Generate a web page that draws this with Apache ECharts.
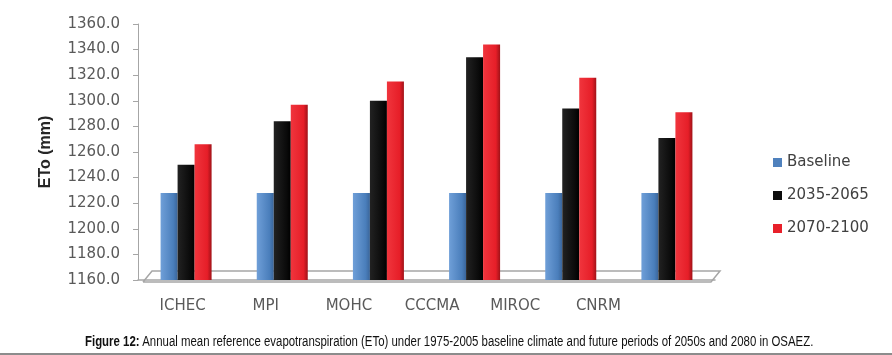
<!DOCTYPE html>
<html><head><meta charset="utf-8">
<script src="https://cdn.jsdelivr.net/npm/echarts@6/dist/echarts.min.js"></script>
<style>html,body{margin:0;padding:0;background:#fff}#c{width:892px;height:355px}</style>
</head><body><div id="c"></div>
<script>
const categories = ['ICHEC','MPI','MOHC','CCCMA','MIROC','CNRM'];
const baseline = [1228, 1228, 1228, 1228, 1228, 1228];
const p2035 = [1250, 1284, 1300, 1334, 1294, 1271];
const p2070 = [1266, 1297, 1315, 1344, 1318, 1291];
const seriesNames = ['Baseline', '2035-2065', '2070-2100'];
const yMin = 1160, yMax = 1360, yStep = 20;

const chart = echarts.init(document.getElementById('c'), null, {renderer: 'canvas'});
const grad = (a, b, c) => ({type: 'linear', x: 0, y: 0, x2: 1, y2: 0,
  colorStops: [{offset: 0, color: a}, {offset: 0.75, color: b}, {offset: 1, color: c}]});
const colors = [grad('#6f9fd8', '#4a7ebb', '#3a659a'), grad('#222', '#0a0a0a', '#000'), grad('#f0353d', '#e61e28', '#a01218')];
const legendColors = ['#4f81bd', '#0d0d0d', '#e8202a'];
const values = [baseline, p2035, p2070];

chart.setOption({
  animation: false,
  grid: [
    {left: 138, right: 177, top: 24, bottom: 75},
    {left: 141, right: 252, top: 24, bottom: 75}
  ],
  legend: {
    orient: 'vertical', left: 768, top: 150, itemGap: 18, itemWidth: 9, itemHeight: 9,
    icon: 'rect',
    textStyle: {fontFamily: 'DejaVu Sans', fontSize: 15, color: '#404040'},
    data: seriesNames.map((n, i) => ({name: n, itemStyle: {color: legendColors[i]}}))
  },
  xAxis: [
    {type: 'category', gridIndex: 0, data: categories,
     axisLine: {show: true, lineStyle: {color: '#a6a6a6', width: 1.5}}, axisTick: {show: false}, axisLabel: {show: false}},
    {type: 'category', gridIndex: 1, data: categories,
     axisLine: {show: false}, axisTick: {show: false},
     axisLabel: {margin: 19, fontFamily: 'DejaVu Sans', fontSize: 15, color: '#595959'}}
  ],
  yAxis: [
    {type: 'value', gridIndex: 0, min: yMin, max: yMax, interval: yStep,
     name: 'ETo (mm)', nameLocation: 'middle', nameGap: 84,
     nameTextStyle: {fontFamily: 'Liberation Sans', fontWeight: 'bold', fontSize: 16, color: '#262626'},
     axisLine: {show: true, lineStyle: {color: '#a6a6a6'}},
     axisTick: {show: true, length: 5, lineStyle: {color: '#a6a6a6'}},
     splitLine: {show: false},
     axisLabel: {margin: 18, fontFamily: 'DejaVu Sans', fontSize: 15, color: '#595959',
       formatter: v => v.toFixed(1)}},
    {type: 'value', gridIndex: 1, min: yMin, max: yMax, show: false}
  ],
  series: seriesNames.map((n, i) => ({
    name: n, type: 'bar', xAxisIndex: 0, yAxisIndex: 0,
    data: values[i], barWidth: 17, barGap: '0%',
    itemStyle: {color: colors[i]}
  }))
});

// floor outline derived from the axis scale
const gx0 = 143, gx1 = 711;
const yb = chart.convertToPixel({yAxisIndex: 0}, yMin);
chart.setOption({graphic: [
  {id: 'floor', type: 'polyline', z: 0,
   shape: {points: [[gx0, yb + 2], [gx0 + 9, yb - 9], [gx1 + 9, yb - 9], [gx1, yb + 2], [gx0, yb + 2]]},
   style: {stroke: '#a6a6a6', lineWidth: 1.5, fill: 'none'}},
  {id: 'cap', type: 'group', x: 85, y: 335, scaleX: 0.815, children: [
    {type: 'text', x: 0, y: 0, style: {
      rich: {b: {fontFamily: 'Liberation Sans', fontWeight: 'bold', fontSize: 14, fill: '#111'},
             n: {fontFamily: 'Liberation Sans', fontSize: 14, fill: '#111'}},
      text: '{b|Figure 12:} {n|Annual mean reference evapotranspiration (ETo) under 1975-2005 baseline climate and future periods of 2050s and 2080 in OSAEZ.}'
    }}
  ]},
  {id: 'rule', type: 'rect', shape: {x: 0, y: 353, width: 892, height: 2}, style: {fill: '#8c8c8c'}}
]});
</script></body></html>
